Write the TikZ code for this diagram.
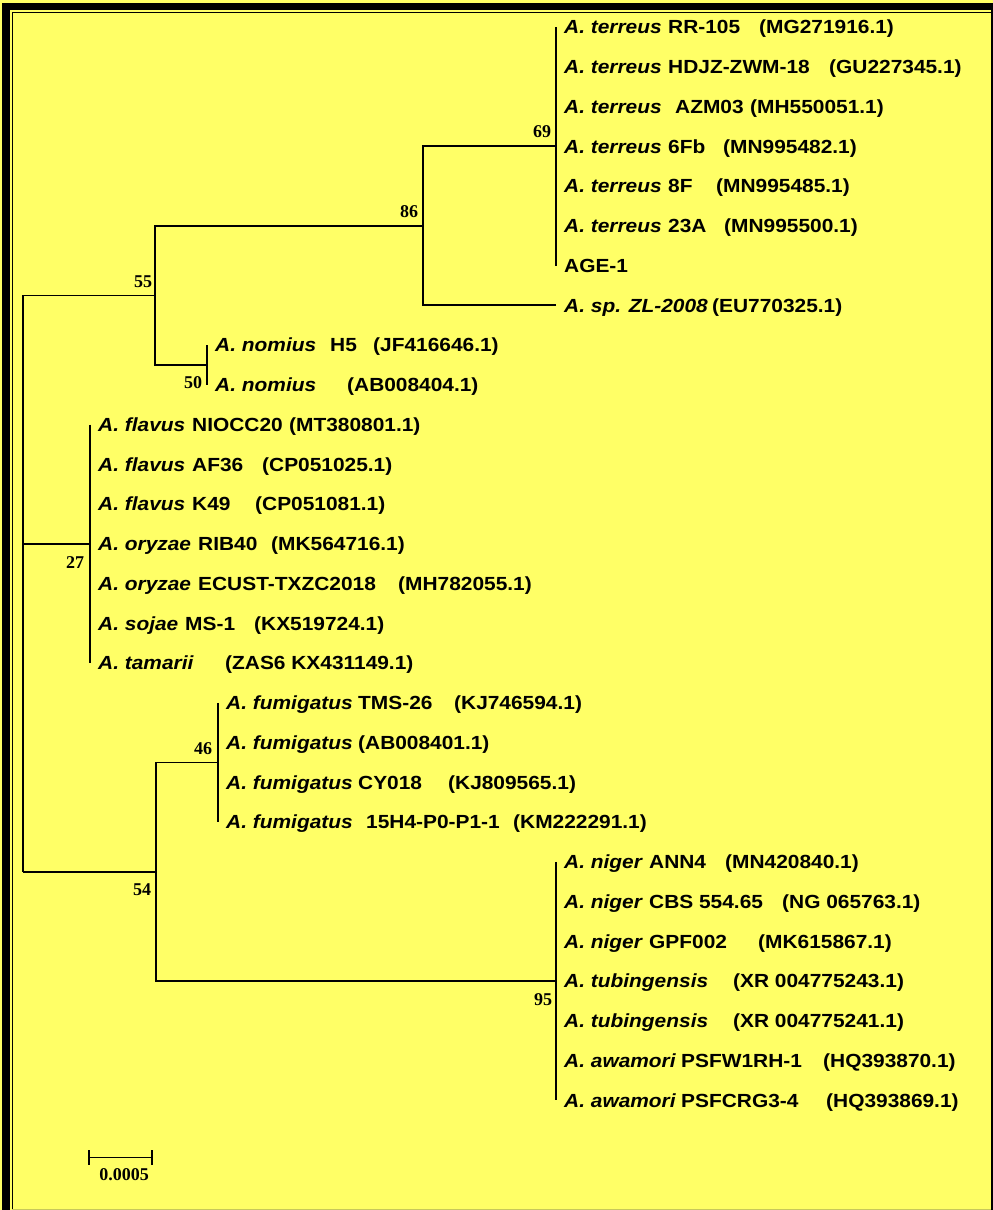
\documentclass[tikz,border=0pt]{standalone}
\usepackage{fontspec}
\setmainfont{Liberation Sans}[FakeStretch=1.1]
\newfontfamily\bsfont{Liberation Serif}
\definecolor{bgyellow}{RGB}{255,255,102}
\definecolor{edgeol}{RGB}{200,200,90}
\tikzset{
  tree/.style={line width=1.6pt},
  lab/.style={inner sep=0pt, anchor=base west, yshift=-6.8pt, font=\fontsize{19}{22}\selectfont\bfseries},
  boot/.style={inner sep=0pt, font=\fontsize{18}{20}\selectfont\bsfont\bfseries},
}
\newcommand\spc[1]{\textit{#1}}
% name, tip x, y, species, strain x, strain, acc x, acc
\newcommand\leafrow[8]{%
  \coordinate (#1) at (#2,#3);
  \node[lab] (#1s) at ([xshift=8pt]#1) {#4};
  \node[lab] (#1t) at (#5,#3) {#6};
  \node[lab] (#1a) at (#7,#3) {#8};
}
\begin{document}
\begin{tikzpicture}[x=1pt,y=-1pt]
\useasboundingbox (0,0) rectangle (993,1210);
% background and frame
\fill[bgyellow] (0,0) rectangle (993,1210);
\fill[black] (2,3) rectangle (10,1210);
\fill[black] (2,3) rectangle (993,10);
\draw[line width=1.4pt] (12.7,1210) -- (12.7,12.7) -- (993,12.7);
\draw[line width=2.2pt] (991.9,10) -- (991.9,1210);
\draw[edgeol, line width=1pt] (12,1209.5) -- (991,1209.5);

% leaves
\leafrow{a0}{556}{27}{\spc{A. terreus}}{668}{RR-105}{759}{(MG271916.1)}
\leafrow{a1}{556}{66.75}{\spc{A. terreus}}{668}{HDJZ-ZWM-18}{829}{(GU227345.1)}
\leafrow{a2}{556}{106.5}{\spc{A. terreus}}{675}{AZM03}{750}{(MH550051.1)}
\leafrow{a3}{556}{146.25}{\spc{A. terreus}}{668}{6Fb}{723}{(MN995482.1)}
\leafrow{a4}{556}{186}{\spc{A. terreus}}{668}{8F}{716}{(MN995485.1)}
\leafrow{a5}{556}{225.75}{\spc{A. terreus}}{668}{23A}{724}{(MN995500.1)}
\leafrow{a6}{556}{265.5}{AGE-1}{668}{}{724}{}
\leafrow{a7}{556}{305.25}{\spc{A. sp. ZL-2008}}{712}{}{712}{(EU770325.1)}
\leafrow{a8}{207}{345}{\spc{A. nomius}}{330}{H5}{373}{(JF416646.1)}
\leafrow{a9}{207}{384.75}{\spc{A. nomius}}{330}{}{347}{(AB008404.1)}
\leafrow{a10}{90}{424.5}{\spc{A. flavus}}{192}{NIOCC20}{289}{(MT380801.1)}
\leafrow{a11}{90}{464.25}{\spc{A. flavus}}{192}{AF36}{262}{(CP051025.1)}
\leafrow{a12}{90}{504}{\spc{A. flavus}}{192}{K49}{255}{(CP051081.1)}
\leafrow{a13}{90}{543.75}{\spc{A. oryzae}}{198}{RIB40}{271}{(MK564716.1)}
\leafrow{a14}{90}{583.5}{\spc{A. oryzae}}{198}{ECUST-TXZC2018}{398}{(MH782055.1)}
\leafrow{a15}{90}{623.25}{\spc{A. sojae}}{185}{MS-1}{254}{(KX519724.1)}
\leafrow{a16}{90}{663}{\spc{A. tamarii}}{225}{}{225}{(ZAS6 KX431149.1)}
\leafrow{a17}{218}{702.75}{\spc{A. fumigatus}}{358}{TMS-26}{454}{(KJ746594.1)}
\leafrow{a18}{218}{742.5}{\spc{A. fumigatus}}{358}{}{358}{(AB008401.1)}
\leafrow{a19}{218}{782.25}{\spc{A. fumigatus}}{358}{CY018}{448}{(KJ809565.1)}
\leafrow{a20}{218}{822}{\spc{A. fumigatus}}{366}{15H4-P0-P1-1}{513}{(KM222291.1)}
\leafrow{a21}{556}{861.75}{\spc{A. niger}}{649}{ANN4}{725}{(MN420840.1)}
\leafrow{a22}{556}{901.5}{\spc{A. niger}}{649}{CBS 554.65}{782}{(NG 065763.1)}
\leafrow{a23}{556}{941.25}{\spc{A. niger}}{649}{GPF002}{758}{(MK615867.1)}
\leafrow{a24}{556}{981}{\spc{A. tubingensis}}{733}{}{733}{(XR 004775243.1)}
\leafrow{a25}{556}{1020.75}{\spc{A. tubingensis}}{733}{}{733}{(XR 004775241.1)}
\leafrow{a26}{556}{1060.5}{\spc{A. awamori}}{681}{PSFW1RH-1}{823}{(HQ393870.1)}
\leafrow{a27}{556}{1100.25}{\spc{A. awamori}}{681}{PSFCRG3-4}{826}{(HQ393869.1)}

% internal nodes
\coordinate (n69) at (556,146.25);
\coordinate (n86) at (423,225.75);
\coordinate (n50) at (207,364.9);
\coordinate (n55) at (155,295.3);
\coordinate (n27) at (90,543.75);
\coordinate (n46) at (218,762.4);
\coordinate (n95) at (556,981);
\coordinate (n54) at (156,871.7);
\coordinate (rt) at (23,295.3);
\coordinate (rm) at (23,543.75);
\coordinate (rb) at (23,871.7);

% branches
\draw[tree] (a0) -- (a6);
\draw[tree] (a7) -| (n86) |- (n69);
\draw[tree] (a8) -- (a9);
\draw[tree] (n50) -| (n55) |- (n86);
\draw[tree] (a10) -- (a16);
\draw[tree] (a17) -- (a20);
\draw[tree] (a21) -- (a27);
\draw[tree] (n95) -| (n54) |- (n46);
\draw[tree] (rt) -- (rb);
\draw[tree] (rt) -- (n55);
\draw[tree] (rm) -- (n27);
\draw[tree] (rb) -- (n54);

% bootstrap values
\node[boot] (b69) at (542,132) {69};
\node[boot] (b86) at (409,212) {86};
\node[boot] (b55) at (143,282) {55};
\node[boot] (b50) at (193,383) {50};
\node[boot] (b27) at (75,563) {27};
\node[boot] (b46) at (203,749) {46};
\node[boot] (b54) at (142,890) {54};
\node[boot] (b95) at (543,1000) {95};

% scale bar
\coordinate (sbl) at (89,1157.5);
\coordinate (sbr) at (152,1157.5);
\draw[line width=1.5pt] (sbl) -- (sbr);
\draw[line width=1.5pt] ([yshift=7.5pt]sbl) -- ([yshift=-7.5pt]sbl);
\draw[line width=1.5pt] ([yshift=7.5pt]sbr) -- ([yshift=-7.5pt]sbr);
\node[boot] (sbt) at (124,1175) {0.0005};
\end{tikzpicture}
\end{document}
